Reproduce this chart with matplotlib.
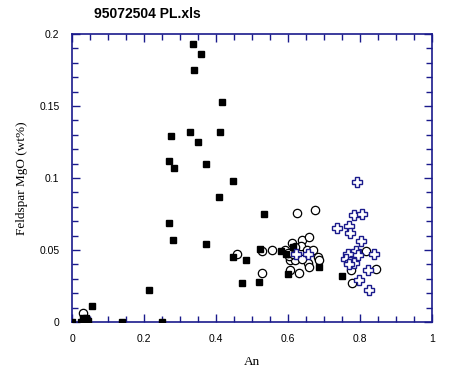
import numpy as np
import matplotlib.pyplot as plt
from matplotlib.ticker import MultipleLocator

# filled squares
sq_x = [0.0, 0.025, 0.03, 0.035, 0.04, 0.045, 0.055, 0.14, 0.215, 0.251,
        0.336, 0.358, 0.339, 0.417, 0.276, 0.329, 0.412, 0.351, 0.270, 0.284,
        0.373, 0.448, 0.409, 0.534, 0.270, 0.281, 0.373, 0.448, 0.484, 0.473,
        0.520, 0.523, 0.581, 0.594, 0.613, 0.601, 0.687, 0.751]
sq_y = [0.0, 0.0, 0.003, 0.002, 0.003, 0.001, 0.011, 0.0, 0.022, 0.0,
        0.193, 0.186, 0.175, 0.153, 0.129, 0.132, 0.132, 0.125, 0.112, 0.107,
        0.110, 0.098, 0.087, 0.075, 0.069, 0.057, 0.054, 0.045, 0.043, 0.027,
        0.028, 0.051, 0.049, 0.047, 0.052, 0.033, 0.038, 0.032]

# open circles
ci_x = [0.03, 0.458, 0.529, 0.556, 0.529, 0.626, 0.674, 0.591, 0.612, 0.638,
        0.657, 0.635, 0.652, 0.670, 0.606, 0.620, 0.606, 0.630, 0.656, 0.657,
        0.684, 0.685, 0.604, 0.615, 0.817, 0.776, 0.844, 0.779, 0.600, 0.620,
        0.640]
ci_y = [0.006, 0.047, 0.049, 0.050, 0.034, 0.0755, 0.0775, 0.050, 0.055, 0.057,
        0.059, 0.053, 0.050, 0.050, 0.043, 0.043, 0.036, 0.034, 0.041, 0.038,
        0.045, 0.043, 0.046, 0.047, 0.049, 0.036, 0.0365, 0.027, 0.048, 0.052,
        0.044]

# blue crosses
cr_x = [0.793, 0.783, 0.806, 0.736, 0.769, 0.772, 0.804, 0.788, 0.768, 0.795,
        0.840, 0.762, 0.772, 0.782, 0.769, 0.822, 0.798, 0.826, 0.621, 0.655]
cr_y = [0.0975, 0.074, 0.075, 0.065, 0.067, 0.062, 0.056, 0.049, 0.047, 0.0468,
        0.047, 0.044, 0.042, 0.041, 0.040, 0.036, 0.029, 0.022, 0.047, 0.047]

x_ticks = [0, 0.2, 0.4, 0.6, 0.8, 1]
x_labels = ['0', '0.2', '0.4', '0.6', '0.8', '1']
y_ticks = [0, 0.05, 0.1, 0.15, 0.2]
y_labels = ['0', '0.05', '0.1', '0.15', '0.2']

navy = '#1a1a8c'

fig = plt.figure(figsize=(4.57, 3.74), dpi=100)
ax = fig.add_axes([72/457, 52/374, 360/457, 288/374])

ax.plot(ci_x, ci_y, 'o', ms=6, mfc='white', mec='black', mew=0.9, ls='none', zorder=2)
ax.plot(sq_x, sq_y, 's', ms=4.3, color='black', ls='none', zorder=3)
ax.plot(cr_x, cr_y, 'P', ms=6.5, mfc='white', mec=navy, mew=1.0, ls='none', zorder=4)

ax.set_xlim(0, 1)
ax.set_ylim(0, 0.2)
ax.set_xticks(x_ticks, x_labels)
ax.set_yticks(y_ticks, y_labels)
ax.xaxis.set_minor_locator(MultipleLocator(0.05))
ax.yaxis.set_minor_locator(MultipleLocator(0.01))

for s in ax.spines.values():
    s.set_color(navy)
    s.set_linewidth(1.2)
ax.tick_params(which='both', direction='in', top=True, right=True, color=navy,
               labelsize=7.5, labelfontfamily='Liberation Sans')
ax.tick_params(which='major', length=6, width=1, pad=9)
ax.tick_params(which='minor', length=4, width=1)

ax.set_xlabel('An', family='Liberation Serif', fontsize=9.5, labelpad=8)
ax.set_ylabel('Feldspar MgO (wt%)', family='Liberation Serif', fontsize=9.5, labelpad=8)
fig.text(0.205, 0.962, '95072504 PL.xls', family='Liberation Sans', weight='bold',
         fontsize=10, va='center')

plt.savefig('out.png', dpi=100)
